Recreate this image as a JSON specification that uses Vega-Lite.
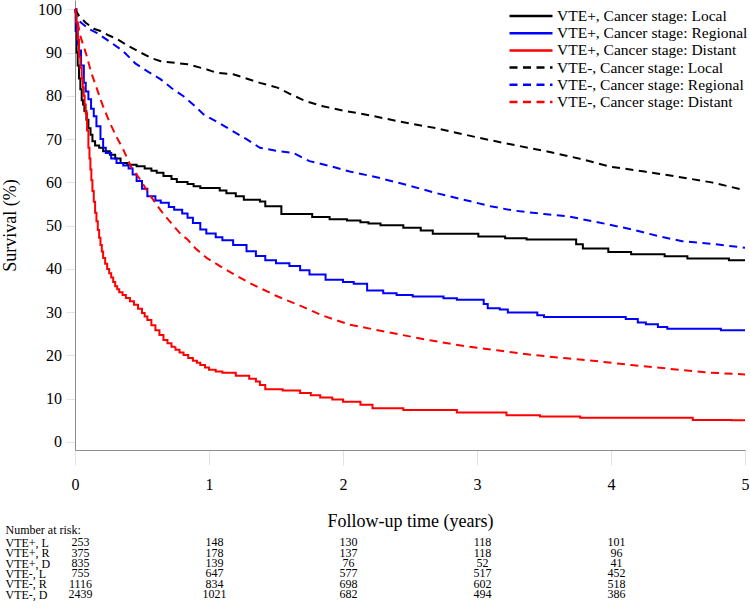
{
  "$schema": "https://vega.github.io/schema/vega-lite/v6.json",
  "background": "white",
  "padding": {"left": 1, "top": 0, "right": 0, "bottom": 0},
  "bounds": "flush",
  "spacing": 87,
  "config": {
    "view": {"stroke": null},
    "font": "Liberation Serif",
    "axis": {"labelFont": "Liberation Serif", "titleFont": "Liberation Serif", "labelColor": "black", "titleColor": "black", "titleFontWeight": "normal", "grid": false},
    "text": {"font": "Liberation Serif"}
  },
  "datasets": {
    "groups": [
      {"k": "A", "group": "VTE+, Cancer stage: Local", "vte": "+"},
      {"k": "B", "group": "VTE+, Cancer stage: Regional", "vte": "+"},
      {"k": "C", "group": "VTE+, Cancer stage: Distant", "vte": "+"},
      {"k": "D", "group": "VTE-, Cancer stage: Local", "vte": "-"},
      {"k": "E", "group": "VTE-, Cancer stage: Regional", "vte": "-"},
      {"k": "F", "group": "VTE-, Cancer stage: Distant", "vte": "-"}
    ],
    "curves": [
      {"k":"A","t":0,"s":100},{"k":"A","t":0.005,"s":95},{"k":"A","t":0.012,"s":90},{"k":"A","t":0.02,"s":87},{"k":"A","t":0.03,"s":84},{"k":"A","t":0.04,"s":81.5},{"k":"A","t":0.05,"s":79},{"k":"A","t":0.06,"s":78},{"k":"A","t":0.07,"s":76.5},{"k":"A","t":0.085,"s":74.5},{"k":"A","t":0.1,"s":72.5},{"k":"A","t":0.116,"s":71},{"k":"A","t":0.13,"s":69.5},{"k":"A","t":0.15,"s":68.5},{"k":"A","t":0.18,"s":68},{"k":"A","t":0.21,"s":67.2},{"k":"A","t":0.26,"s":66.4},{"k":"A","t":0.3,"s":65.5},{"k":"A","t":0.34,"s":64.5},{"k":"A","t":0.39,"s":64.1},{"k":"A","t":0.46,"s":63.7},{"k":"A","t":0.52,"s":63.2},{"k":"A","t":0.57,"s":62.7},{"k":"A","t":0.61,"s":62.2},{"k":"A","t":0.66,"s":61.5},{"k":"A","t":0.72,"s":60.8},{"k":"A","t":0.76,"s":60.1},{"k":"A","t":0.84,"s":59.6},{"k":"A","t":0.885,"s":59.1},{"k":"A","t":0.935,"s":58.7},{"k":"A","t":1.08,"s":58.1},{"k":"A","t":1.13,"s":57.5},{"k":"A","t":1.2,"s":56.8},{"k":"A","t":1.26,"s":56.0},{"k":"A","t":1.38,"s":55.6},{"k":"A","t":1.42,"s":54.5},{"k":"A","t":1.54,"s":52.7},{"k":"A","t":1.77,"s":52.0},{"k":"A","t":1.9,"s":51.5},{"k":"A","t":2.03,"s":51.2},{"k":"A","t":2.13,"s":50.8},{"k":"A","t":2.19,"s":50.5},{"k":"A","t":2.28,"s":50.1},{"k":"A","t":2.45,"s":49.5},{"k":"A","t":2.58,"s":48.9},{"k":"A","t":2.67,"s":48.1},{"k":"A","t":3.01,"s":47.5},{"k":"A","t":3.21,"s":47.1},{"k":"A","t":3.37,"s":46.8},{"k":"A","t":3.74,"s":45.7},{"k":"A","t":3.79,"s":44.7},{"k":"A","t":3.98,"s":43.9},{"k":"A","t":4.15,"s":43.4},{"k":"A","t":4.4,"s":42.9},{"k":"A","t":4.57,"s":42.4},{"k":"A","t":4.88,"s":42.0},{"k":"A","t":5.0,"s":42.0},
      {"k":"B","t":0,"s":100},{"k":"B","t":0.01,"s":95},{"k":"B","t":0.02,"s":92},{"k":"B","t":0.03,"s":90.5},{"k":"B","t":0.045,"s":87},{"k":"B","t":0.066,"s":83},{"k":"B","t":0.08,"s":81},{"k":"B","t":0.1,"s":79.2},{"k":"B","t":0.12,"s":77},{"k":"B","t":0.14,"s":75.3},{"k":"B","t":0.16,"s":73},{"k":"B","t":0.19,"s":70},{"k":"B","t":0.21,"s":68},{"k":"B","t":0.23,"s":66.8},{"k":"B","t":0.27,"s":65.5},{"k":"B","t":0.31,"s":64.5},{"k":"B","t":0.36,"s":63.9},{"k":"B","t":0.4,"s":63.2},{"k":"B","t":0.43,"s":61.8},{"k":"B","t":0.46,"s":60.3},{"k":"B","t":0.5,"s":58.5},{"k":"B","t":0.54,"s":56.8},{"k":"B","t":0.6,"s":55.8},{"k":"B","t":0.64,"s":55.3},{"k":"B","t":0.7,"s":54.3},{"k":"B","t":0.74,"s":53.7},{"k":"B","t":0.8,"s":52.8},{"k":"B","t":0.84,"s":51.8},{"k":"B","t":0.88,"s":50.6},{"k":"B","t":0.935,"s":49.1},{"k":"B","t":0.98,"s":48.2},{"k":"B","t":1.05,"s":47.3},{"k":"B","t":1.1,"s":46.6},{"k":"B","t":1.18,"s":45.5},{"k":"B","t":1.28,"s":44.1},{"k":"B","t":1.35,"s":43},{"k":"B","t":1.42,"s":42},{"k":"B","t":1.5,"s":41.3},{"k":"B","t":1.6,"s":40.7},{"k":"B","t":1.68,"s":39.7},{"k":"B","t":1.75,"s":38.7},{"k":"B","t":1.87,"s":37.5},{"k":"B","t":2.0,"s":37.0},{"k":"B","t":2.08,"s":36.6},{"k":"B","t":2.18,"s":35.0},{"k":"B","t":2.3,"s":34.4},{"k":"B","t":2.4,"s":34.0},{"k":"B","t":2.52,"s":33.6},{"k":"B","t":2.75,"s":33.2},{"k":"B","t":2.85,"s":32.9},{"k":"B","t":3.05,"s":31.9},{"k":"B","t":3.08,"s":30.9},{"k":"B","t":3.17,"s":30.6},{"k":"B","t":3.23,"s":29.9},{"k":"B","t":3.45,"s":29.3},{"k":"B","t":3.5,"s":28.9},{"k":"B","t":4.11,"s":28.4},{"k":"B","t":4.2,"s":27.6},{"k":"B","t":4.26,"s":27.2},{"k":"B","t":4.35,"s":26.6},{"k":"B","t":4.42,"s":26.2},{"k":"B","t":4.82,"s":25.8},{"k":"B","t":5,"s":25.8},
      {"k":"C","t":0,"s":100},{"k":"C","t":0.01,"s":97},{"k":"C","t":0.02,"s":93},{"k":"C","t":0.03,"s":89},{"k":"C","t":0.04,"s":86.5},{"k":"C","t":0.05,"s":84},{"k":"C","t":0.058,"s":82},{"k":"C","t":0.065,"s":80},{"k":"C","t":0.072,"s":78},{"k":"C","t":0.08,"s":76},{"k":"C","t":0.09,"s":72},{"k":"C","t":0.1,"s":68},{"k":"C","t":0.108,"s":65.5},{"k":"C","t":0.115,"s":63},{"k":"C","t":0.122,"s":60.5},{"k":"C","t":0.13,"s":58},{"k":"C","t":0.14,"s":55.5},{"k":"C","t":0.15,"s":53},{"k":"C","t":0.16,"s":51},{"k":"C","t":0.17,"s":49},{"k":"C","t":0.18,"s":47.2},{"k":"C","t":0.19,"s":45.5},{"k":"C","t":0.2,"s":44},{"k":"C","t":0.21,"s":42.5},{"k":"C","t":0.225,"s":41.2},{"k":"C","t":0.24,"s":40},{"k":"C","t":0.255,"s":39},{"k":"C","t":0.27,"s":38},{"k":"C","t":0.285,"s":37},{"k":"C","t":0.3,"s":36},{"k":"C","t":0.315,"s":35.3},{"k":"C","t":0.33,"s":34.6},{"k":"C","t":0.355,"s":34},{"k":"C","t":0.38,"s":33.3},{"k":"C","t":0.41,"s":32.5},{"k":"C","t":0.44,"s":31.7},{"k":"C","t":0.47,"s":30.8},{"k":"C","t":0.5,"s":29.8},{"k":"C","t":0.52,"s":29},{"k":"C","t":0.54,"s":28.2},{"k":"C","t":0.57,"s":27},{"k":"C","t":0.6,"s":25.8},{"k":"C","t":0.63,"s":24.7},{"k":"C","t":0.66,"s":23.6},{"k":"C","t":0.69,"s":22.8},{"k":"C","t":0.72,"s":22},{"k":"C","t":0.75,"s":21.3},{"k":"C","t":0.78,"s":20.7},{"k":"C","t":0.81,"s":20.1},{"k":"C","t":0.845,"s":19.4},{"k":"C","t":0.88,"s":18.8},{"k":"C","t":0.91,"s":18.3},{"k":"C","t":0.935,"s":17.8},{"k":"C","t":0.97,"s":17.2},{"k":"C","t":1.0,"s":16.7},{"k":"C","t":1.05,"s":16.3},{"k":"C","t":1.1,"s":16.0},{"k":"C","t":1.2,"s":15.3},{"k":"C","t":1.3,"s":14.6},{"k":"C","t":1.35,"s":14.0},{"k":"C","t":1.38,"s":13.2},{"k":"C","t":1.42,"s":12.2},{"k":"C","t":1.55,"s":11.9},{"k":"C","t":1.68,"s":11.3},{"k":"C","t":1.76,"s":10.8},{"k":"C","t":1.83,"s":10.3},{"k":"C","t":1.92,"s":9.8},{"k":"C","t":2.0,"s":9.3},{"k":"C","t":2.13,"s":8.6},{"k":"C","t":2.22,"s":7.8},{"k":"C","t":2.45,"s":7.4},{"k":"C","t":2.85,"s":6.8},{"k":"C","t":3.22,"s":6.2},{"k":"C","t":3.47,"s":5.9},{"k":"C","t":3.77,"s":5.6},{"k":"C","t":4.61,"s":5.1},{"k":"C","t":4.9,"s":5.0},{"k":"C","t":5,"s":5.0},
      {"k":"D","t":0,"s":100},{"k":"D","t":0.03,"s":98.5},{"k":"D","t":0.08,"s":96.9},{"k":"D","t":0.14,"s":95.5},{"k":"D","t":0.19,"s":95.0},{"k":"D","t":0.25,"s":94},{"k":"D","t":0.31,"s":93.2},{"k":"D","t":0.4,"s":91.5},{"k":"D","t":0.49,"s":90},{"k":"D","t":0.58,"s":88.6},{"k":"D","t":0.64,"s":88.0},{"k":"D","t":0.84,"s":87.3},{"k":"D","t":0.985,"s":86.1},{"k":"D","t":1.06,"s":85.3},{"k":"D","t":1.18,"s":85.0},{"k":"D","t":1.38,"s":83},{"k":"D","t":1.51,"s":81.9},{"k":"D","t":1.6,"s":80.5},{"k":"D","t":1.72,"s":78.8},{"k":"D","t":1.85,"s":77.6},{"k":"D","t":2.0,"s":76.6},{"k":"D","t":2.2,"s":75.5},{"k":"D","t":2.43,"s":74.0},{"k":"D","t":2.7,"s":72.5},{"k":"D","t":3.0,"s":70.4},{"k":"D","t":3.25,"s":68.8},{"k":"D","t":3.5,"s":67.3},{"k":"D","t":3.75,"s":65.6},{"k":"D","t":4.0,"s":63.6},{"k":"D","t":4.25,"s":62.5},{"k":"D","t":4.5,"s":61.3},{"k":"D","t":4.75,"s":60},{"k":"D","t":5.0,"s":58.2},
      {"k":"E","t":0,"s":100},{"k":"E","t":0.016,"s":97.7},{"k":"E","t":0.1,"s":95.5},{"k":"E","t":0.165,"s":94.5},{"k":"E","t":0.26,"s":92.5},{"k":"E","t":0.36,"s":90.3},{"k":"E","t":0.45,"s":87.5},{"k":"E","t":0.55,"s":85.5},{"k":"E","t":0.64,"s":83.8},{"k":"E","t":0.72,"s":81.8},{"k":"E","t":0.81,"s":79.9},{"k":"E","t":0.9,"s":77.5},{"k":"E","t":0.96,"s":75.7},{"k":"E","t":1.07,"s":73.8},{"k":"E","t":1.18,"s":71.8},{"k":"E","t":1.28,"s":70},{"k":"E","t":1.38,"s":68},{"k":"E","t":1.5,"s":67.3},{"k":"E","t":1.63,"s":66.8},{"k":"E","t":1.75,"s":64.9},{"k":"E","t":1.9,"s":63.8},{"k":"E","t":2.05,"s":62.5},{"k":"E","t":2.25,"s":61.2},{"k":"E","t":2.5,"s":59.2},{"k":"E","t":2.7,"s":57.5},{"k":"E","t":2.9,"s":56.0},{"k":"E","t":3.1,"s":54.5},{"k":"E","t":3.27,"s":53.5},{"k":"E","t":3.5,"s":52.7},{"k":"E","t":3.67,"s":52.2},{"k":"E","t":3.9,"s":50.8},{"k":"E","t":4.16,"s":49.1},{"k":"E","t":4.35,"s":47.6},{"k":"E","t":4.53,"s":46.4},{"k":"E","t":4.75,"s":45.8},{"k":"E","t":5,"s":44.9},
      {"k":"F","t":0,"s":100},{"k":"F","t":0.02,"s":97},{"k":"F","t":0.04,"s":93.8},{"k":"F","t":0.08,"s":90},{"k":"F","t":0.12,"s":85.5},{"k":"F","t":0.165,"s":81.5},{"k":"F","t":0.21,"s":77.5},{"k":"F","t":0.26,"s":73.8},{"k":"F","t":0.31,"s":70.5},{"k":"F","t":0.36,"s":67.6},{"k":"F","t":0.42,"s":63.5},{"k":"F","t":0.49,"s":60.5},{"k":"F","t":0.56,"s":57},{"k":"F","t":0.64,"s":53.5},{"k":"F","t":0.72,"s":50.5},{"k":"F","t":0.79,"s":48},{"k":"F","t":0.84,"s":46.8},{"k":"F","t":0.9,"s":44.7},{"k":"F","t":0.985,"s":42.5},{"k":"F","t":1.1,"s":40.3},{"k":"F","t":1.2,"s":38.5},{"k":"F","t":1.3,"s":36.8},{"k":"F","t":1.4,"s":35.3},{"k":"F","t":1.5,"s":33.8},{"k":"F","t":1.68,"s":31.5},{"k":"F","t":1.85,"s":29.2},{"k":"F","t":2.05,"s":27.1},{"k":"F","t":2.2,"s":26.2},{"k":"F","t":2.43,"s":24.8},{"k":"F","t":2.65,"s":23.5},{"k":"F","t":2.92,"s":22.1},{"k":"F","t":3.15,"s":21.2},{"k":"F","t":3.42,"s":20.1},{"k":"F","t":3.65,"s":19.4},{"k":"F","t":3.92,"s":18.6},{"k":"F","t":4.15,"s":17.8},{"k":"F","t":4.41,"s":17.0},{"k":"F","t":4.7,"s":16.1},{"k":"F","t":5,"s":15.6}
    ],
    "risk": [
      {"row":"VTE+, L","t":0,"n":253},{"row":"VTE+, L","t":1,"n":148},{"row":"VTE+, L","t":2,"n":130},{"row":"VTE+, L","t":3,"n":118},{"row":"VTE+, L","t":4,"n":101},
      {"row":"VTE+, R","t":0,"n":375},{"row":"VTE+, R","t":1,"n":178},{"row":"VTE+, R","t":2,"n":137},{"row":"VTE+, R","t":3,"n":118},{"row":"VTE+, R","t":4,"n":96},
      {"row":"VTE+, D","t":0,"n":835},{"row":"VTE+, D","t":1,"n":139},{"row":"VTE+, D","t":2,"n":76},{"row":"VTE+, D","t":3,"n":52},{"row":"VTE+, D","t":4,"n":41},
      {"row":"VTE-, L","t":0,"n":755},{"row":"VTE-, L","t":1,"n":647},{"row":"VTE-, L","t":2,"n":577},{"row":"VTE-, L","t":3,"n":517},{"row":"VTE-, L","t":4,"n":452},
      {"row":"VTE-, R","t":0,"n":1116},{"row":"VTE-, R","t":1,"n":834},{"row":"VTE-, R","t":2,"n":698},{"row":"VTE-, R","t":3,"n":602},{"row":"VTE-, R","t":4,"n":518},
      {"row":"VTE-, D","t":0,"n":2439},{"row":"VTE-, D","t":1,"n":1021},{"row":"VTE-, D","t":2,"n":682},{"row":"VTE-, D","t":3,"n":494},{"row":"VTE-, D","t":4,"n":386}
    ]
  },
  "vconcat": [
    {
      "width": 670,
      "height": 450,
      "data": {"name": "curves"},
      "transform": [
        {"lookup": "k", "from": {"data": {"name": "groups"}, "key": "k", "fields": ["group", "vte"]}}
      ],
      "encoding": {
        "x": {
          "field": "t", "type": "quantitative",
          "scale": {"domain": [0, 5], "nice": false, "zero": false},
          "axis": {
            "values": [0, 1, 2, 3, 4, 5], "format": "d",
            "title": "Follow-up time (years)", "titleFontSize": 18, "titlePadding": 20,
            "labelFontSize": 16, "labelPadding": 11, "labelFlush": false,
            "tickSize": 15, "tickColor": "#e3e3e3", "domainColor": "#8c8c8c"
          }
        },
        "y": {
          "field": "s", "type": "quantitative",
          "scale": {"domain": [-1.85, 102.15], "nice": false, "zero": false},
          "axis": {
            "values": [0, 10, 20, 30, 40, 50, 60, 70, 80, 90, 100],
            "title": "Survival (%)", "titleFontSize": 18, "titlePadding": 18,
            "labelFontSize": 16, "labelPadding": 4.5,
            "tickSize": 9, "tickColor": "#e3e3e3", "domainColor": "#8c8c8c"
          }
        },
        "color": {
          "field": "group", "type": "nominal",
          "scale": {
            "domain": ["VTE+, Cancer stage: Local", "VTE+, Cancer stage: Regional", "VTE+, Cancer stage: Distant", "VTE-, Cancer stage: Local", "VTE-, Cancer stage: Regional", "VTE-, Cancer stage: Distant"],
            "range": ["#000000", "#0000ff", "#ff0000", "#000000", "#0000ff", "#ff0000"]
          },
          "legend": {
            "title": null, "orient": "none", "legendX": 433, "legendY": 8.5, "padding": 0,
            "symbolType": "stroke", "symbolSize": 1849, "symbolStrokeWidth": 2.5, "clipHeight": 15,
            "rowPadding": 1.2, "labelFontSize": 15.5, "labelFont": "Liberation Serif", "labelColor": "black",
            "labelOffset": 3, "labelLimit": 400
          }
        },
        "strokeDash": {
          "field": "group", "type": "nominal",
          "scale": {
            "domain": ["VTE+, Cancer stage: Local", "VTE+, Cancer stage: Regional", "VTE+, Cancer stage: Distant", "VTE-, Cancer stage: Local", "VTE-, Cancer stage: Regional", "VTE-, Cancer stage: Distant"],
            "range": [[1, 0], [1, 0], [1, 0], [8, 5.5], [8, 5.5], [8, 5.5]]
          },
          "legend": {
            "title": null, "orient": "none", "legendX": 433, "legendY": 8.5, "padding": 0,
            "symbolType": "stroke", "symbolSize": 1849, "symbolStrokeWidth": 2.5, "clipHeight": 15,
            "rowPadding": 1.2, "labelFontSize": 15.5, "labelFont": "Liberation Serif", "labelColor": "black",
            "labelOffset": 3, "labelLimit": 400
          }
        }
      },
      "layer": [
        {
          "transform": [{"filter": "datum.vte == '+'"}],
          "mark": {"type": "line", "interpolate": "step-after", "strokeWidth": 2}
        },
        {
          "transform": [{"filter": "datum.vte == '-'"}],
          "mark": {"type": "line", "interpolate": "linear", "strokeWidth": 2}
        }
      ]
    },
    {
      "width": 670,
      "height": 62.4,
      "data": {"name": "risk"},
      "mark": {"type": "text", "fontSize": 12, "font": "Liberation Serif", "align": "center", "baseline": "middle", "dx": 5.5, "color": "black"},
      "encoding": {
        "x": {"field": "t", "type": "quantitative", "scale": {"domain": [0, 5], "nice": false, "zero": false}, "axis": null},
        "y": {
          "field": "row", "type": "ordinal",
          "scale": {"type": "point", "padding": 0.5, "domain": ["VTE+, L", "VTE+, R", "VTE+, D", "VTE-, L", "VTE-, R", "VTE-, D"]},
          "axis": {
            "title": "Number at risk:", "titleAngle": 0, "titleAlign": "left", "titleBaseline": "alphabetic",
            "titleX": -70, "titleY": -3.5, "titleFontSize": 12,
            "labelAlign": "left", "labelBaseline": "middle", "labelPadding": 70, "labelFontSize": 12,
            "ticks": false, "tickSize": 0, "domain": false, "labelLimit": 200
          }
        },
        "text": {"field": "n", "type": "nominal"}
      }
    }
  ]
}
